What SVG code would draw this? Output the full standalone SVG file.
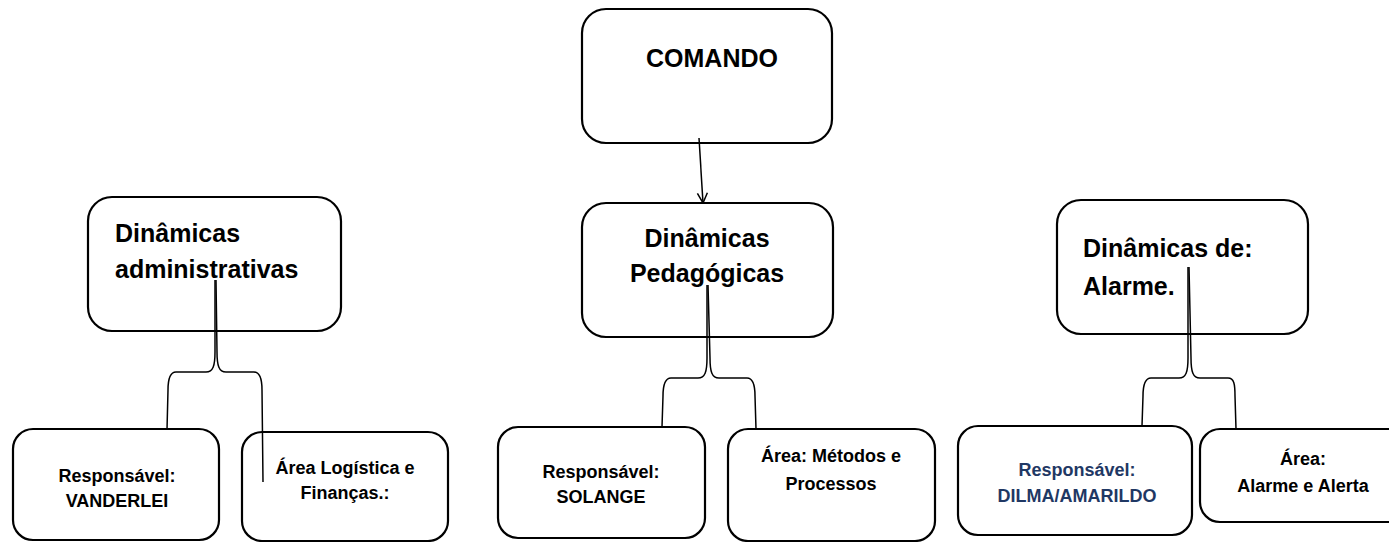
<svg xmlns="http://www.w3.org/2000/svg" width="1389" height="542" viewBox="0 0 1389 542">
<defs>
<style>
.box{fill:#fff;stroke:#000;stroke-width:2.2}
.t{font-family:"Liberation Sans",Arial,sans-serif;font-weight:bold;fill:#000}
.big{font-size:25px}
.sm{font-size:18px}
.c{text-anchor:middle}
.blue{fill:#1F3864}
.con{fill:none;stroke:#000;stroke-width:1.5}
</style>
<marker id="arr" viewBox="0 0 12 12" refX="11" refY="6" markerWidth="12" markerHeight="12" markerUnits="userSpaceOnUse" orient="auto">
<path d="M1,1 L11,6 L1,11" fill="none" stroke="#000" stroke-width="1.5"/>
</marker>
</defs>
<rect width="1389" height="542" fill="#fff"/>

<g id="comando">
<rect class="box" x="582" y="9" width="250" height="134" rx="24"/>
<text class="t big c" x="712" y="67">COMANDO</text>
</g>

<g id="din-admin">
<rect class="box" x="88" y="197" width="253" height="134" rx="24"/>
<text class="t big" x="115" y="242">Dinâmicas</text>
<text class="t big" x="115" y="278">administrativas</text>
</g>

<g id="din-pedag">
<rect class="box" x="582" y="203" width="251" height="134" rx="24"/>
<text class="t big c" x="707" y="247">Dinâmicas</text>
<text class="t big c" x="707" y="282">Pedagógicas</text>
</g>

<g id="din-alarme">
<rect class="box" x="1057" y="200" width="251" height="134" rx="24"/>
<text class="t big" x="1083" y="257">Dinâmicas de:</text>
<text class="t big" x="1083" y="295">Alarme.</text>
</g>

<g id="resp-vanderlei">
<rect class="box" x="13" y="429" width="206" height="111" rx="20"/>
<text class="t sm c" x="117" y="482">Responsável:</text>
<text class="t sm c" x="117" y="507">VANDERLEI</text>
</g>

<g id="area-logistica">
<rect class="box" x="242" y="432" width="206" height="109" rx="20"/>
<text class="t sm c" x="345" y="474">Área Logística e</text>
<text class="t sm c" x="345" y="499">Finanças.:</text>
</g>

<g id="resp-solange">
<rect class="box" x="498" y="427" width="207" height="111" rx="20"/>
<text class="t sm c" x="601" y="478">Responsável:</text>
<text class="t sm c" x="601" y="503">SOLANGE</text>
</g>

<g id="area-metodos">
<rect class="box" x="728" y="429" width="207" height="112" rx="20"/>
<text class="t sm c" x="831" y="462">Área: Métodos e</text>
<text class="t sm c" x="831" y="490">Processos</text>
</g>

<g id="resp-dilma">
<rect class="box" x="958" y="426" width="234" height="109" rx="20"/>
<text class="t sm c blue" x="1077" y="476">Responsável:</text>
<text class="t sm c blue" x="1077" y="502">DILMA/AMARILDO</text>
</g>

<g id="area-alarme">
<rect class="box" x="1200" y="429" width="210" height="93" rx="20"/>
<text class="t sm c" x="1303" y="465">Área:</text>
<text class="t sm c" x="1303" y="492">Alarme e Alerta</text>
</g>

<g id="connectors">
<line class="con" x1="699" y1="138" x2="703" y2="203" marker-end="url(#arr)"/>
<path class="con" d="M215,280 L215,352 C215,366 213,372 206,372 L176,372 C170,372 168,378 168,390 L167,430"/>
<path class="con" d="M216,280 L217,352 C217,366 219,372 226,372 L254,372 C260,372 262,378 262,390 L263,482"/>
<path class="con" d="M707,285 L707,358 C707,372 705,378 698,378 L671,378 C665,378 663,384 663,396 L662,427"/>
<path class="con" d="M708,285 L710,358 C710,372 712,378 719,378 L747,378 C753,378 755,384 755,396 L756,429"/>
<path class="con" d="M1188,267 L1188,358 C1188,372 1186,378 1179,378 L1151,378 C1145,378 1143,384 1143,396 L1142,426"/>
<path class="con" d="M1189,267 L1191,358 C1191,372 1193,378 1200,378 L1228,378 C1234,378 1235,384 1235,396 L1236,429"/>
</g>
</svg>
